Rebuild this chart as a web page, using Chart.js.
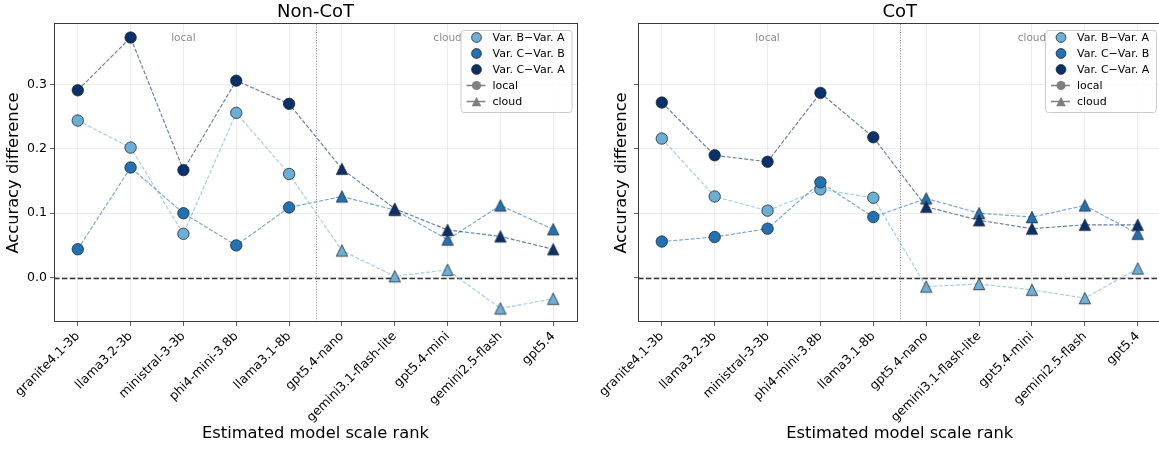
<!DOCTYPE html>
<html><head><meta charset="utf-8">
<script src="https://cdn.jsdelivr.net/npm/chart.js@4.4.1/dist/chart.umd.min.js"></script>
<style>
html,body{margin:0;padding:0;background:#fff;overflow:hidden;width:1159px;height:449px;}
#wrap{position:relative;width:1159px;height:449px;overflow:hidden;}
.box{position:absolute;top:0;height:449px;}
</style></head><body>
<div id="wrap">
<div class="box" style="left:0;width:600px"><canvas id="c1" width="600" height="449"></canvas></div>
<div class="box" style="left:600px;width:562px"><canvas id="c2" width="562" height="449"></canvas></div>
</div>
<script>
// ---- data ----
const models = ["granite4.1-3b","llama3.2-3b","ministral-3-3b","phi4-mini-3.8b","llama3.1-8b","gpt5.4-nano","gemini3.1-flash-lite","gpt5.4-mini","gemini2.5-flash","gpt5.4"];
const deployment = ["local","local","local","local","local","cloud","cloud","cloud","cloud","cloud"];
const seriesNames = ["Var. B\u2212Var. A","Var. C\u2212Var. B","Var. C\u2212Var. A"];
const panelTitles = ["Non-CoT","CoT"];
const regionNames = ["local","cloud"];
const nonCotBA = [0.244,0.202,0.068,0.256,0.161,0.042,0.002,0.012,-0.048,-0.033];
const nonCotCB = [0.044,0.171,0.100,0.050,0.109,0.126,0.105,0.059,0.112,0.075];
const nonCotCA = [0.291,0.373,0.167,0.306,0.270,0.169,0.107,0.074,0.064,0.044];
const cotBA = [0.216,0.126,0.104,0.137,0.124,-0.014,-0.010,-0.019,-0.032,0.014];
const cotCB = [0.056,0.063,0.076,0.148,0.094,0.123,0.100,0.094,0.112,0.068];
const cotCA = [0.272,0.190,0.180,0.287,0.218,0.110,0.089,0.076,0.082,0.082];
const yTicks = [0.0,0.1,0.2,0.3];
const xLabel = "Estimated model scale rank";
const yLabel = "Accuracy difference";

// ---- styles ----
const FONT = "'DejaVu Sans', sans-serif";
Chart.defaults.font.family = FONT;
Chart.defaults.color = '#000';
const seriesColors = ['#6baed6','#2171b5','#08306b'];
const lineAlpha = 0.62;
const gridColor = 'rgba(176,176,176,0.3)';
const edgeColor = '#262626';

function rgba(hex, a){const n=parseInt(hex.slice(1),16);return `rgba(${n>>16},${(n>>8)&255},${n&255},${a})`;}
function triImg(fill, stroke, size){
  const s=16, c=document.createElement('canvas'); c.width=s; c.height=s;
  const g=c.getContext('2d'), cx=s/2, h=size;
  g.beginPath(); g.moveTo(cx,cx-h/2); g.lineTo(cx-h/2,cx+h/2); g.lineTo(cx+h/2,cx+h/2); g.closePath();
  g.fillStyle=fill; g.fill();
  if(stroke){g.lineWidth=0.8; g.strokeStyle=stroke; g.stroke();}
  return c;
}
const triImgs = seriesColors.map(c=>triImg(c, edgeColor, 11.4));

const allVals = [].concat(nonCotBA,nonCotCB,nonCotCA,cotBA,cotCB,cotCA);
const dMin = Math.min(...allVals), dMax = Math.max(...allVals), dR = dMax-dMin;
const yMin = dMin-0.05*dR, yMax = dMax+0.05*dR;
const nModels = models.length;
const xMin = -0.05*(nModels-1), xMax = (nModels-1)*1.05;
const localIdx = deployment.map((d,i)=>d==='local'?i:-1).filter(i=>i>=0);
const cloudIdx = deployment.map((d,i)=>d==='cloud'?i:-1).filter(i=>i>=0);
const dividerX = Math.max(...localIdx)+0.5;
const mean = a => a.reduce((s,v)=>s+v,0)/a.length;

function drawLegend(ctx, a){
  const w=111, h=82, lx=a.right-5.5-w, ly=a.top+6;
  ctx.save();
  ctx.beginPath();
  if(ctx.roundRect) ctx.roundRect(lx+0.5,ly+0.5,w,h,3); else ctx.rect(lx+0.5,ly+0.5,w,h);
  ctx.fillStyle='rgba(255,255,255,0.8)'; ctx.fill();
  ctx.lineWidth=1; ctx.strokeStyle='#cccccc'; ctx.stroke();
  ctx.font='11px '+FONT; ctx.textBaseline='middle'; ctx.textAlign='left';
  const labels=[...seriesNames, ...regionNames];
  labels.forEach((t,i)=>{
    const cy=ly+7.5+i*16, mx=lx+16;
    if(i<3){
      ctx.beginPath(); ctx.arc(mx,cy,4.9,0,Math.PI*2);
      ctx.fillStyle=seriesColors[i]; ctx.fill(); ctx.lineWidth=0.8; ctx.strokeStyle=edgeColor; ctx.stroke();
    } else {
      ctx.beginPath(); ctx.moveTo(lx+6,cy); ctx.lineTo(lx+25,cy);
      ctx.lineWidth=1.5; ctx.strokeStyle='#808080'; ctx.stroke();
      ctx.fillStyle='#808080'; ctx.beginPath();
      if(i===3){ ctx.arc(mx,cy,4.6,0,Math.PI*2); }
      else { ctx.moveTo(mx,cy-4.8); ctx.lineTo(mx-4.8,cy+4.8); ctx.lineTo(mx+4.8,cy+4.8); ctx.closePath(); }
      ctx.fill();
    }
    ctx.fillStyle='#000'; ctx.fillText(t, lx+32, cy+0.5);
  });
  ctx.restore();
}

const decor = {
  id:'decor',
  beforeDatasetsDraw(chart){
    const {ctx, chartArea:a, scales:{x,y}} = chart;
    ctx.save();
    ctx.beginPath(); ctx.rect(a.left,a.top,a.right-a.left,a.bottom-a.top); ctx.clip();
    const y0=Math.round(y.getPixelForValue(0))+0.5;
    ctx.setLineDash([5.5,2.4]); ctx.lineWidth=1.3; ctx.strokeStyle='#333';
    ctx.beginPath(); ctx.moveTo(a.left,y0); ctx.lineTo(a.right,y0); ctx.stroke();
    const xd=Math.round(x.getPixelForValue(dividerX))+0.5;
    ctx.setLineDash([1,1.65]); ctx.lineWidth=1; ctx.strokeStyle='#8a8a8a';
    ctx.beginPath(); ctx.moveTo(xd,a.top); ctx.lineTo(xd,a.bottom); ctx.stroke();
    ctx.setLineDash([]);
    ctx.font='10.5px '+FONT; ctx.fillStyle='#8c8c8c'; ctx.textAlign='center'; ctx.textBaseline='middle';
    const ty=a.top+(a.bottom-a.top)*0.048;
    ctx.fillText(regionNames[0], x.getPixelForValue(mean(localIdx)), ty);
    ctx.fillText(regionNames[1], x.getPixelForValue(mean(cloudIdx)), ty);
    ctx.restore();
  },
  afterDatasetsDraw(chart){
    const {ctx, chartArea:a} = chart;
    ctx.save();
    ctx.lineWidth=1; ctx.strokeStyle='#3a3a3a';
    const L=Math.floor(a.left)+0.5, T=Math.floor(a.top)+0.5, R=Math.floor(a.right)+0.5, B=Math.round(a.bottom)-0.5;
    ctx.strokeRect(L,T,R-L,B-T);
    ctx.restore();
    drawLegend(ctx, a);
  }
};

function makeChart(id, title, series, cfg){
  const datasets=[];
  series.forEach((vals,k)=>{
    datasets.push({label:seriesNames[k]+'_line', data:vals.map((v,i)=>({x:i,y:v})),
      borderColor:rgba(seriesColors[k],lineAlpha), borderWidth:1.15, borderDash:[4,1.8],
      pointRadius:0, fill:false, tension:0, order:10});
  });
  series.forEach((vals,k)=>{
    datasets.push({label:seriesNames[k], data:vals.map((v,i)=>({x:i,y:v})), showLine:false,
      pointStyle:(c)=>deployment[c.dataIndex]==='local'?'circle':triImgs[k],
      pointRadius:5.7, pointBackgroundColor:seriesColors[k], pointBorderColor:edgeColor, pointBorderWidth:0.8,
      order:3-k});
  });
  return new Chart(document.getElementById(id), {
    type:'line',
    data:{datasets},
    options:{
      responsive:false, animation:false, devicePixelRatio:1,
      layout:{autoPadding:false, padding:{left:0,top:0,bottom:0,right:cfg.padRight}},
      plugins:{
        legend:{display:false}, tooltip:{enabled:false},
        title:{display:true, text:title, fullSize:false, font:{size:18, weight:'normal'}, color:'#000', padding:{top:2,bottom:0.4}}
      },
      scales:{
        x:{type:'linear', min:xMin, max:xMax,
          afterBuildTicks:s=>{s.ticks=models.map((_,i)=>({value:i}));},
          ticks:{autoSkip:false, minRotation:45, maxRotation:45, font:{size:12.5}, color:'#000', padding:3,
            callback:(v)=>models[Math.round(v)]},
          grid:{color:gridColor, lineWidth:0.8, tickColor:'#333', tickLength:4, tickWidth:0.8},
          border:{display:false},
          title:{display:true, text:xLabel, font:{size:16.3}, color:'#000', padding:{top:0,bottom:5.4}},
          afterFit:s=>{s.height=127; s.paddingLeft=0; s.paddingRight=0;}
        },
        y:{type:'linear', min:yMin, max:yMax,
          afterBuildTicks:s=>{s.ticks=yTicks.map(v=>({value:v}));},
          ticks:{display:cfg.yLabels, font:{size:12.5}, color:'#000', padding:3, callback:(v)=>Number(v).toFixed(1)},
          grid:{color:gridColor, lineWidth:0.8, tickColor:'#333', tickLength:4, tickWidth:0.8},
          border:{display:false},
          title:{display:true, text:yLabel, font:{size:16.3}, color:'#000', padding:{top:cfg.yTitlePad,bottom:0}},
          afterFit:s=>{s.width=cfg.yWidth; s.paddingTop=0; s.paddingBottom=0;}
        }
      }
    },
    plugins:[decor]
  });
}

makeChart('c1', panelTitles[0], [nonCotBA,nonCotCB,nonCotCA], {padRight:23, yWidth:54, yLabels:true, yTitlePad:3.5});
makeChart('c2', panelTitles[1], [cotBA,cotCB,cotCA], {padRight:0.5, yWidth:38, yLabels:false, yTitlePad:12.4});
</script>
</body></html>
